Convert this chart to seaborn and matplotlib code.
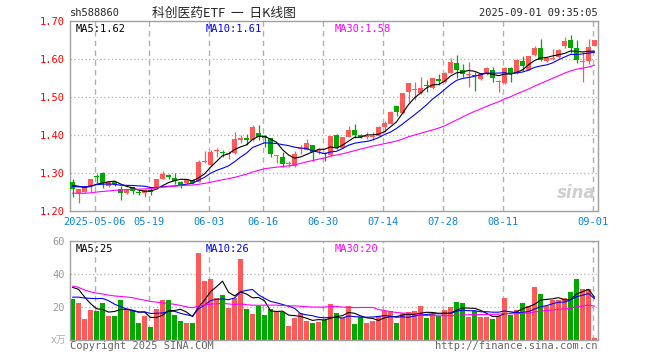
import numpy as np
import pandas as pd
import matplotlib
matplotlib.use("Agg")
import matplotlib.pyplot as plt
import seaborn as sns

# 88 daily sessions, 2025-04-25 .. 2025-09-01
opens = [1.276, 1.247, 1.249, 1.266, 1.291, 1.300, 1.266, 1.276, 1.259, 1.248,
         1.262, 1.250, 1.247, 1.255, 1.260, 1.284, 1.296, 1.288, 1.277, 1.274,
         1.281, 1.277, 1.328, 1.321, 1.357, 1.356, 1.350, 1.352, 1.388, 1.391,
         1.387, 1.406, 1.398, 1.391, 1.345, 1.343, 1.324, 1.318, 1.362, 1.361,
         1.374, 1.359, 1.351, 1.347, 1.400, 1.367, 1.396, 1.413, 1.401, 1.394,
         1.395, 1.398, 1.422, 1.430, 1.476, 1.457, 1.514, 1.519, 1.510, 1.531,
         1.523, 1.548, 1.540, 1.563, 1.589, 1.571, 1.558, 1.557, 1.547, 1.562,
         1.571, 1.539, 1.536, 1.577, 1.562, 1.595, 1.571, 1.610, 1.630, 1.595,
         1.600, 1.606, 1.635, 1.650, 1.628, 1.593, 1.595, 1.635]
highs = [1.283, 1.259, 1.266, 1.285, 1.297, 1.302, 1.279, 1.279, 1.266, 1.259,
         1.264, 1.254, 1.258, 1.262, 1.284, 1.304, 1.297, 1.300, 1.278, 1.285,
         1.284, 1.334, 1.358, 1.360, 1.367, 1.361, 1.358, 1.409, 1.400, 1.403,
         1.426, 1.426, 1.400, 1.392, 1.347, 1.356, 1.331, 1.358, 1.374, 1.389,
         1.375, 1.366, 1.356, 1.398, 1.402, 1.396, 1.424, 1.428, 1.402, 1.407,
         1.407, 1.424, 1.438, 1.462, 1.477, 1.511, 1.537, 1.540, 1.553, 1.545,
         1.550, 1.561, 1.565, 1.602, 1.610, 1.588, 1.593, 1.567, 1.560, 1.580,
         1.580, 1.545, 1.578, 1.578, 1.598, 1.609, 1.609, 1.633, 1.653, 1.606,
         1.626, 1.626, 1.659, 1.663, 1.651, 1.619, 1.652, 1.651]
lows = [1.238, 1.222, 1.247, 1.249, 1.273, 1.260, 1.262, 1.266, 1.229, 1.246,
        1.246, 1.243, 1.238, 1.242, 1.258, 1.283, 1.285, 1.271, 1.260, 1.272,
        1.272, 1.276, 1.326, 1.319, 1.343, 1.343, 1.336, 1.350, 1.378, 1.373,
        1.385, 1.387, 1.369, 1.342, 1.326, 1.317, 1.317, 1.317, 1.349, 1.360,
        1.332, 1.350, 1.332, 1.346, 1.363, 1.365, 1.395, 1.393, 1.392, 1.390,
        1.387, 1.397, 1.409, 1.429, 1.450, 1.456, 1.488, 1.492, 1.509, 1.514,
        1.522, 1.532, 1.538, 1.562, 1.549, 1.553, 1.527, 1.516, 1.545, 1.558,
        1.540, 1.514, 1.533, 1.540, 1.560, 1.568, 1.570, 1.609, 1.594, 1.592,
        1.597, 1.603, 1.630, 1.615, 1.589, 1.540, 1.587, 1.634]
closes = [1.258, 1.258, 1.263, 1.284, 1.289, 1.273, 1.276, 1.271, 1.247, 1.257,
          1.253, 1.248, 1.255, 1.250, 1.283, 1.297, 1.289, 1.280, 1.268, 1.283,
          1.275, 1.330, 1.332, 1.356, 1.359, 1.352, 1.353, 1.389, 1.390, 1.387,
          1.422, 1.394, 1.392, 1.350, 1.347, 1.323, 1.326, 1.349, 1.366, 1.380,
          1.356, 1.361, 1.349, 1.397, 1.365, 1.395, 1.413, 1.400, 1.396, 1.396,
          1.397, 1.422, 1.432, 1.461, 1.461, 1.510, 1.536, 1.521, 1.524, 1.529,
          1.549, 1.541, 1.564, 1.593, 1.571, 1.560, 1.561, 1.554, 1.560, 1.576,
          1.549, 1.541, 1.575, 1.562, 1.597, 1.582, 1.608, 1.630, 1.597, 1.603,
          1.602, 1.624, 1.647, 1.630, 1.597, 1.595, 1.632, 1.650]
# volume in 万 shares
volumes = [24.6, 22.2, 12.6, 18.0, 17.4, 22.2, 14.4, 14.4, 24.0, 18.6,
           17.4, 10.2, 14.4, 7.8, 18.6, 24.0, 24.0, 15.0, 11.4, 10.2,
           10.2, 52.9, 36.0, 37.2, 25.2, 27.0, 19.2, 25.2, 49.2, 18.6,
           15.6, 20.4, 15.0, 18.6, 16.8, 16.8, 8.4, 13.2, 16.2, 11.4,
           10.2, 10.8, 12.0, 21.6, 16.2, 13.2, 20.4, 9.6, 13.8, 10.2,
           11.4, 14.4, 17.4, 17.4, 10.2, 16.2, 16.8, 17.4, 20.4, 13.2,
           15.6, 14.4, 18.0, 19.8, 22.8, 22.2, 13.8, 17.4, 13.8, 13.8,
           12.6, 14.4, 25.2, 15.0, 18.0, 22.2, 20.4, 32.4, 27.6, 20.4,
           24.0, 24.0, 25.2, 28.8, 37.2, 31.2, 31.2, 1.2]

# sessions before the window (only feed the moving averages),
# estimated from where the MA lines start on the left edge
closes_prior = [1.27, 1.26, 1.25, 1.23, 1.22, 1.24, 1.22, 1.23, 1.23, 1.22,
                1.24, 1.23, 1.22, 1.23, 1.24, 1.25, 1.24, 1.23, 1.25, 1.26,
                1.27, 1.26, 1.27, 1.25, 1.26, 1.27, 1.28, 1.27, 1.26]
volumes_prior = [45, 60, 52, 40, 38, 35, 30, 33, 28, 30,
                 36, 34, 32, 30, 38, 35, 30, 32, 36, 26,
                 22, 18, 20, 19, 21, 28, 36, 38, 33]

tick_pos = [4, 13, 23, 32, 42, 52, 62, 72, 87]
tick_labels = ['2025-05-06', '05-19', '06-03', '06-16', '06-30',
               '07-14', '07-28', '08-11', '09-01']
price_ticks = [1.20, 1.30, 1.40, 1.50, 1.60, 1.70]
vol_ticks = [20, 40, 60]

RED = '#ff5a5a'
GREEN = '#00a800'
FRAME = '#a0a0a0'
GRID = '#b0b0b0'
MONO = 'DejaVu Sans Mono'

sns.set_style("white")
plt.rcParams['font.family'] = [MONO, 'Noto Sans CJK SC']

n = len(closes)
x = np.arange(n)
df = pd.DataFrame({'x': x, 'open': opens, 'high': highs, 'low': lows,
                   'close': closes, 'vol': volumes})
up = df['close'] >= df['open']
colors = np.where(up, RED, GREEN)

all_close = pd.Series(closes_prior + closes)
all_vol = pd.Series(volumes_prior + volumes)
k = len(closes_prior)
for w in (5, 10, 30):
    df[f'ma{w}'] = all_close.rolling(w).mean().iloc[k:].values
    df[f'vma{w}'] = all_vol.rolling(w).mean().iloc[k:].values

fig = plt.figure(figsize=(6.6, 3.6), dpi=100)
ax1 = fig.add_axes([70 / 660, 1 - 211 / 360, 528 / 660, 190 / 360])
ax2 = fig.add_axes([70 / 660, 1 - 340 / 360, 528 / 660, 99 / 360])

xlim = (-0.42, 87.58)
grid_x = [p - 0.3 for p in tick_pos]

# price panel
for y in price_ticks[1:-1]:
    ax1.axhline(y, color=GRID, lw=0.9, ls=(0, (1, 2)), zorder=0)
for gx in grid_x:
    ax1.axvline(gx, color=GRID, lw=1.0, ls=(0, (4, 3)), zorder=0)

body_w = 5 / 6
ax1.vlines(df['x'], df['low'], df['high'], colors=colors, lw=0.9, zorder=2)
body_lo = np.minimum(df['open'], df['close'])
body_h = np.maximum((df['close'] - df['open']).abs(), 0.0028)
ax1.bar(df['x'], body_h, bottom=body_lo, width=body_w, color=colors,
        linewidth=0, zorder=3)

sns.lineplot(data=df, x='x', y='ma5', ax=ax1, color='black', lw=0.8, zorder=4)
sns.lineplot(data=df, x='x', y='ma10', ax=ax1, color='#0000ff', lw=0.8, zorder=4)
sns.lineplot(data=df, x='x', y='ma30', ax=ax1, color='#ff00ff', lw=0.8, zorder=4)

ax1.set_xlim(*xlim)
ax1.set_ylim(1.20, 1.70)
ax1.set_yticks(price_ticks)
ax1.set_yticklabels([f'{t:.2f}' for t in price_ticks], color='red', fontsize=7.5)
ax1.set_xticks(grid_x)
ax1.set_xticklabels(tick_labels, color='#0a84d6', fontsize=7.5)
ax1.tick_params(length=0, pad=4)
ax1.set_xlabel('')
ax1.set_ylabel('')

ax1.text(0.01, 0.985, 'MA5:1.62', transform=ax1.transAxes, color='black',
         fontsize=7.5, va='top', ha='left')
ax1.text(0.256, 0.985, 'MA10:1.61', transform=ax1.transAxes, color='#0000ff',
         fontsize=7.5, va='top', ha='left')
ax1.text(0.502, 0.985, 'MA30:1.58', transform=ax1.transAxes, color='#ff00ff',
         fontsize=7.5, va='top', ha='left')
ax1.text(0.995, 0.05, 'sina', transform=ax1.transAxes, color='#cfcfcf',
         fontsize=12, fontweight='bold', style='italic', ha='right',
         va='bottom', family='DejaVu Sans')

# volume panel
for y in vol_ticks[:-1]:
    ax2.axhline(y, color=GRID, lw=0.9, ls=(0, (1, 2)), zorder=0)
for gx in grid_x:
    ax2.axvline(gx, color=GRID, lw=1.0, ls=(0, (4, 3)), zorder=0)

ax2.bar(df['x'], df['vol'], width=body_w, color=colors, linewidth=0, zorder=2)
sns.lineplot(data=df, x='x', y='vma5', ax=ax2, color='black', lw=0.8, zorder=4)
sns.lineplot(data=df, x='x', y='vma10', ax=ax2, color='#0000ff', lw=0.8, zorder=4)
sns.lineplot(data=df, x='x', y='vma30', ax=ax2, color='#ff00ff', lw=0.8, zorder=4)

ax2.set_xlim(*xlim)
ax2.set_ylim(0, 60)
ax2.set_yticks(vol_ticks)
ax2.set_yticklabels([str(t) for t in vol_ticks], color='#999999', fontsize=7.5)
ax2.set_xticks([])
ax2.tick_params(length=0, pad=4)
ax2.set_xlabel('')
ax2.set_ylabel('')

ax2.text(0.01, 0.97, 'MA5:25', transform=ax2.transAxes, color='black',
         fontsize=7.5, va='top', ha='left')
ax2.text(0.256, 0.97, 'MA10:26', transform=ax2.transAxes, color='#0000ff',
         fontsize=7.5, va='top', ha='left')
ax2.text(0.502, 0.97, 'MA30:20', transform=ax2.transAxes, color='#ff00ff',
         fontsize=7.5, va='top', ha='left')

for ax in (ax1, ax2):
    for s in ax.spines.values():
        s.set_color(FRAME)
        s.set_linewidth(1.0)

# header and footer
fig.text(70 / 660, 1 - 13 / 360, 'sh588860', fontsize=7.5, va='center', ha='left')
fig.text(224 / 660, 1 - 13 / 360, '科创医药ETF  一  日K线图', fontsize=9.2,
         va='center', ha='center', family=['Noto Sans CJK SC', 'DejaVu Sans'])
fig.text(598 / 660, 1 - 13 / 360, '2025-09-01 09:35:05', fontsize=7.5,
         va='center', ha='right')
fig.text(66 / 660, 1 - 340 / 360, 'x万', fontsize=7, color='#aaaaaa',
         va='center', ha='right')
fig.text(70 / 660, 1 - 346 / 360, 'Copyright 2025 SINA.COM', fontsize=7.5,
         color='#666666', va='center', ha='left')
fig.text(598 / 660, 1 - 346 / 360, 'http://finance.sina.com.cn', fontsize=7.5,
         color='#666666', va='center', ha='right')

fig.savefig('out.png', dpi=100)
